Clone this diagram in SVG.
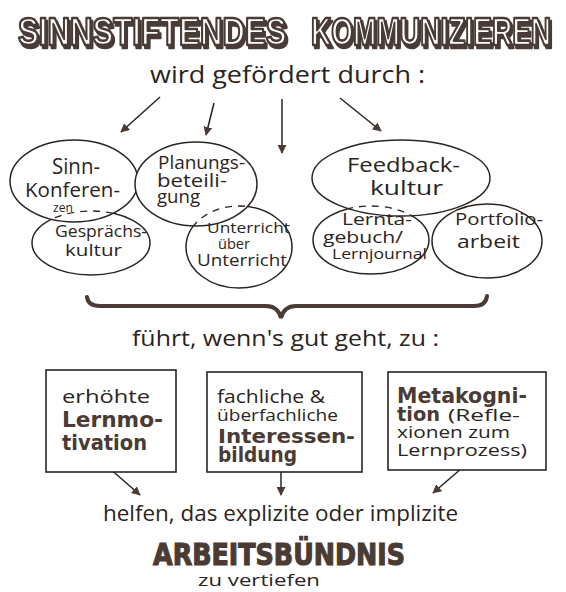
<svg xmlns="http://www.w3.org/2000/svg" width="566" height="592" viewBox="0 0 566 592">
  <style>
    .hand { font-family: "Open Sans", "Liberation Sans", sans-serif; font-weight: 400; fill: #2b2421; }
    .bold { font-family: "DejaVu Sans", "Liberation Sans", sans-serif; font-weight: 700; fill: #4a3b34; }
    .oval { fill: #ffffff; stroke: #2b2421; stroke-width: 1.5; }
    .hidden { fill: none; stroke: #2b2421; stroke-width: 1.3; stroke-dasharray: 7 6; }
    .box { fill: #ffffff; stroke: #2b2421; stroke-width: 1.6; }
    .arrow { stroke: #2b2421; stroke-width: 1.5; fill: none; marker-end: url(#head); }
    .title { font-family: "Liberation Sans", sans-serif; font-weight: 700; font-size: 39px; fill: #ffffff; stroke: #4a3b34; stroke-width: 2.6; stroke-linejoin: round; }
  </style>
  <defs>
    <marker id="head" viewBox="0 0 10 10" refX="9" refY="5" markerWidth="9" markerHeight="9" markerUnits="userSpaceOnUse" orient="auto">
      <path d="M0,0 L10,5 L0,10 z" fill="#4a3b34"/>
    </marker>
    <!-- block shadow behind the outlined heading letters -->
    <filter id="drop" x="-5%" y="-30%" width="115%" height="170%">
      <feOffset in="SourceAlpha" dx="2" dy="3" result="off"/>
      <feFlood flood-color="#4a3b34"/>
      <feComposite in2="off" operator="in" result="shadow"/>
      <feMerge><feMergeNode in="shadow"/><feMergeNode in="SourceGraphic"/></feMerge>
    </filter>
    <clipPath id="clipSinn"><ellipse cx="74" cy="181" rx="64" ry="41"/></clipPath>
    <clipPath id="clipPlan"><ellipse cx="196" cy="184" rx="61" ry="42"/></clipPath>
    <clipPath id="clipFeed"><ellipse cx="401" cy="178" rx="89" ry="38"/></clipPath>
  </defs>

  <!-- heading: condensed by a horizontal scale -->
  <g id="title" filter="url(#drop)">
    <text class="title" transform="translate(18,45) scale(0.8,1)">SINNSTIFTENDES</text>
    <text class="title" transform="translate(311,45) scale(0.72,1)">KOMMUNIZIEREN</text>
  </g>

  <g id="subtitle">
    <text class="hand" x="150" y="83" font-size="23" textLength="275" lengthAdjust="spacingAndGlyphs">wird gefördert durch :</text>
  </g>

  <!-- connectors -->
  <g id="connectors">
    <line class="arrow" x1="160" y1="97" x2="121" y2="132"/>
    <line class="arrow" x1="214" y1="103" x2="206" y2="135"/>
    <line class="arrow" x1="282" y1="99" x2="282" y2="153"/>
    <line class="arrow" x1="340" y1="98" x2="381" y2="131"/>
    <path d="M87,297 Q88,306 100,306 L266,306 Q278,306 281,318 Q284,306 296,306 L474,306 Q486,306 487,296" fill="none" stroke="#4a3b34" stroke-width="4" stroke-linecap="round"/>
    <line class="arrow" x1="108" y1="467" x2="140" y2="495"/>
    <line class="arrow" x1="281" y1="471" x2="281" y2="495"/>
    <line class="arrow" x1="462" y1="468" x2="433" y2="493"/>
  </g>

  <!-- ovals behind -->
  <g id="gespraechskultur">
    <ellipse class="oval" cx="91" cy="243" rx="59" ry="32"/>
  </g>
  <g id="unterricht">
    <ellipse class="oval" cx="239" cy="247" rx="53" ry="41"/>
  </g>
  <g id="lerntagebuch">
    <ellipse class="oval" cx="371" cy="240" rx="58" ry="34"/>
  </g>
  <g id="portfolio">
    <ellipse class="oval" cx="487" cy="241" rx="55" ry="37"/>
  </g>

  <!-- ovals in front, with the hidden rims of the ovals behind dashed -->
  <g id="sinnkonferenzen">
    <ellipse class="oval" cx="74" cy="181" rx="64" ry="41"/>
    <ellipse class="hidden" cx="91" cy="243" rx="59" ry="32" clip-path="url(#clipSinn)"/>
  </g>
  <g id="planungsbeteiligung">
    <ellipse class="oval" cx="196" cy="184" rx="61" ry="42"/>
    <ellipse class="hidden" cx="239" cy="247" rx="53" ry="41" clip-path="url(#clipPlan)"/>
  </g>
  <g id="feedbackkultur">
    <ellipse class="oval" cx="401" cy="178" rx="89" ry="38"/>
    <ellipse class="hidden" cx="371" cy="240" rx="58" ry="34" clip-path="url(#clipFeed)"/>
  </g>

  <!-- oval labels -->
  <g id="oval-labels">
    <text class="hand" x="52" y="174" font-size="21" textLength="48" lengthAdjust="spacingAndGlyphs">Sinn-</text>
    <text class="hand" x="25" y="197" font-size="20" textLength="95" lengthAdjust="spacingAndGlyphs">Konferen-</text>
    <text class="hand" x="53" y="212" font-size="12" textLength="20" lengthAdjust="spacingAndGlyphs">zen</text>

    <text class="hand" x="158" y="169" font-size="18" textLength="87" lengthAdjust="spacingAndGlyphs">Planungs-</text>
    <text class="hand" x="157" y="187" font-size="18" textLength="70" lengthAdjust="spacingAndGlyphs">beteili-</text>
    <text class="hand" x="157" y="203" font-size="18" textLength="43" lengthAdjust="spacingAndGlyphs">gung</text>

    <text class="hand" x="55" y="237" font-size="17" textLength="92" lengthAdjust="spacingAndGlyphs">Gesprächs-</text>
    <text class="hand" x="65" y="256" font-size="17" textLength="57" lengthAdjust="spacingAndGlyphs">kultur</text>

    <text class="hand" x="207" y="233" font-size="15" textLength="83" lengthAdjust="spacingAndGlyphs">Unterricht</text>
    <text class="hand" x="218" y="249" font-size="14" textLength="32" lengthAdjust="spacingAndGlyphs">über</text>
    <text class="hand" x="197" y="266" font-size="16" textLength="90" lengthAdjust="spacingAndGlyphs">Unterricht</text>

    <text class="hand" x="347" y="172" font-size="20" textLength="113" lengthAdjust="spacingAndGlyphs">Feedback-</text>
    <text class="hand" x="370" y="195" font-size="20" textLength="73" lengthAdjust="spacingAndGlyphs">kultur</text>

    <text class="hand" x="342" y="225" font-size="16" textLength="70" lengthAdjust="spacingAndGlyphs">Lernta-</text>
    <text class="hand" x="323" y="243" font-size="16" textLength="80" lengthAdjust="spacingAndGlyphs">gebuch/</text>
    <text class="hand" x="332" y="259" font-size="15" textLength="95" lengthAdjust="spacingAndGlyphs">Lernjournal</text>

    <text class="hand" x="455" y="225" font-size="17" textLength="88" lengthAdjust="spacingAndGlyphs">Portfolio-</text>
    <text class="hand" x="457" y="248" font-size="19" textLength="63" lengthAdjust="spacingAndGlyphs">arbeit</text>
  </g>

  <g id="fuehrt">
    <text class="hand" x="132" y="346" font-size="22" textLength="307" lengthAdjust="spacingAndGlyphs">führt, wenn's gut geht, zu :</text>
  </g>

  <!-- outcome boxes -->
  <g id="lernmotivation">
    <rect class="box" x="46" y="370" width="130" height="102"/>
    <text class="hand" x="62" y="403" font-size="19" textLength="88" lengthAdjust="spacingAndGlyphs">erhöhte</text>
    <text class="bold" x="62" y="427" font-size="21" textLength="101" lengthAdjust="spacingAndGlyphs">Lernmo-</text>
    <text class="bold" x="62" y="450" font-size="21" textLength="85" lengthAdjust="spacingAndGlyphs">tivation</text>
  </g>
  <g id="interessenbildung">
    <rect class="box" x="207" y="372" width="155" height="100"/>
    <text class="hand" x="217" y="403" font-size="18" textLength="108" lengthAdjust="spacingAndGlyphs">fachliche &amp;</text>
    <text class="hand" x="217" y="421" font-size="17" textLength="121" lengthAdjust="spacingAndGlyphs">überfachliche</text>
    <text class="bold" x="218" y="443" font-size="20" textLength="137" lengthAdjust="spacingAndGlyphs">Interessen-</text>
    <text class="bold" x="218" y="462" font-size="21" textLength="79" lengthAdjust="spacingAndGlyphs">bildung</text>
  </g>
  <g id="metakognition">
    <rect class="box" x="388" y="372" width="158" height="98"/>
    <text class="bold" x="397" y="403" font-size="21" textLength="130" lengthAdjust="spacingAndGlyphs">Metakogni-</text>
    <text class="bold" x="397" y="421" font-size="20" textLength="43" lengthAdjust="spacingAndGlyphs">tion</text>
    <text class="hand" x="448" y="421" font-size="17" textLength="72" lengthAdjust="spacingAndGlyphs">(Refle-</text>
    <text class="hand" x="397" y="438" font-size="16" textLength="113" lengthAdjust="spacingAndGlyphs">xionen zum</text>
    <text class="hand" x="397" y="456" font-size="16" textLength="130" lengthAdjust="spacingAndGlyphs">Lernprozess)</text>
  </g>

  <g id="conclusion">
    <text class="hand" x="103" y="521" font-size="21" textLength="355" lengthAdjust="spacingAndGlyphs">helfen, das explizite oder implizite</text>
    <text class="bold" x="153" y="565" font-size="30" stroke="#4a3b34" stroke-width="1.2" textLength="252" lengthAdjust="spacingAndGlyphs">ARBEITSBÜNDNIS</text>
    <text class="hand" x="198" y="586" font-size="17" textLength="122" lengthAdjust="spacingAndGlyphs">zu vertiefen</text>
  </g>
</svg>
